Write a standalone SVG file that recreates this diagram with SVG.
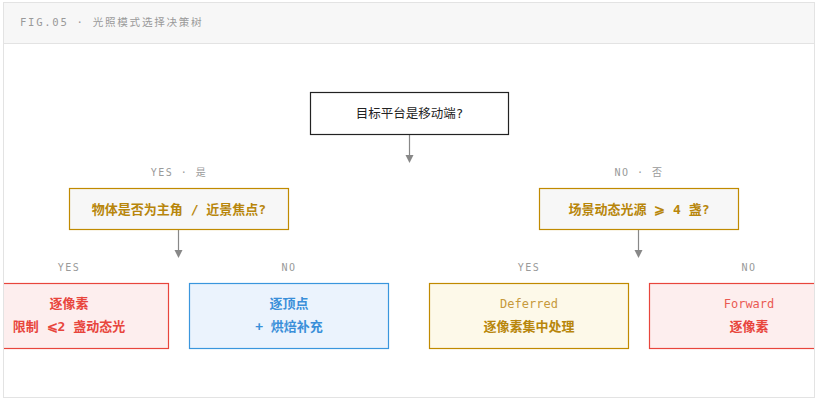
<svg xmlns="http://www.w3.org/2000/svg" width="823" height="402" viewBox="0 0 823 402">
<defs>
<style>
.t{font-family:"DejaVu Sans Mono","Noto Sans CJK SC",monospace;text-anchor:middle}
.lab{font-size:10px;fill:#9a9a9a;letter-spacing:1.5px}
.b{font-weight:bold;font-size:13px}
.conn{stroke:#888;stroke-width:1.2;fill:none}
.dec{fill:#f7f7f7;stroke:#c08a00;stroke-width:1.2}
.dect{fill:#b8860b}
.red{fill:#fdeeee;stroke:#e8453c;stroke-width:1.2}
.redt{fill:#e8453c}
.blue{fill:#ebf3fd;stroke:#3a96dd;stroke-width:1.2}
.bluet{fill:#3a8fd9}
.gold{fill:#fdf9e9;stroke:#c08a00;stroke-width:1.2}
</style>
<clipPath id="frame"><rect x="4" y="3" width="810" height="394"/></clipPath>
</defs>
<rect x="3.5" y="2.5" width="811" height="395" fill="#fff" stroke="#e3e3e3"/>
<rect x="4" y="3" width="810" height="40" fill="#f7f7f7"/>
<line x1="4" y1="43.5" x2="814" y2="43.5" stroke="#e3e3e3"/>
<text x="20" y="26" font-family="DejaVu Sans Mono,'Noto Sans CJK SC',monospace" font-size="10.6" fill="#9a9a9a" letter-spacing="1.7">FIG.05 · 光照模式选择决策树</text>

<g id="connectors">
<line class="conn" x1="409.5" y1="134" x2="409.5" y2="155"/>
<path d="M405.5,155 L413.5,155 L409.5,163 Z" fill="#888"/>
<line class="conn" x1="178.5" y1="229" x2="178.5" y2="250"/>
<path d="M174.5,250 L182.5,250 L178.5,258 Z" fill="#888"/>
<line class="conn" x1="638.5" y1="229" x2="638.5" y2="250"/>
<path d="M634.5,250 L642.5,250 L638.5,258 Z" fill="#888"/>
<text class="t lab" x="179" y="176">YES · 是</text>
<text class="t lab" x="639" y="176">NO · 否</text>
<text class="t lab" x="69" y="271">YES</text>
<text class="t lab" x="289" y="271">NO</text>
<text class="t lab" x="529" y="271">YES</text>
<text class="t lab" x="749" y="271">NO</text>
</g>

<g id="root">
<rect x="310.5" y="92.5" width="198" height="42" fill="#fff" stroke="#222" stroke-width="1.2"/>
<text class="t" x="409.5" y="118" font-size="12.5" fill="#222">目标平台是移动端?</text>
</g>

<g id="q-hero">
<rect class="dec" x="69.5" y="188.5" width="219" height="41"/>
<text class="t b dect" x="179" y="214">物体是否为主角 / 近景焦点?</text>
</g>

<g id="q-lights">
<rect class="dec" x="539.5" y="188.5" width="199" height="41"/>
<text class="t b dect" x="639" y="214">场景动态光源 ⩾ 4 盏?</text>
</g>

<g clip-path="url(#frame)">
<g id="leaf-perpixel">
<rect class="red" x="-29.5" y="283.5" width="198" height="65"/>
<text class="t b redt" x="69" y="308">逐像素</text>
<text class="t b redt" x="69" y="331">限制 ⩽2 盏动态光</text>
</g>
<g id="leaf-vertex">
<rect class="blue" x="189.5" y="283.5" width="199" height="65"/>
<text class="t b bluet" x="289" y="308">逐顶点</text>
<text class="t b bluet" x="289" y="331">+ 烘焙补充</text>
</g>
<g id="leaf-deferred">
<rect class="gold" x="429.5" y="283.5" width="199" height="65"/>
<text class="t" x="529" y="308" font-size="12" fill="#c79a3c">Deferred</text>
<text class="t b dect" x="529" y="331">逐像素集中处理</text>
</g>
<g id="leaf-forward">
<rect class="red" x="649.5" y="283.5" width="199" height="65"/>
<text class="t" x="749" y="308" font-size="12" fill="#ea5a52">Forward</text>
<text class="t b redt" x="749" y="331">逐像素</text>
</g>
</g>
</svg>
